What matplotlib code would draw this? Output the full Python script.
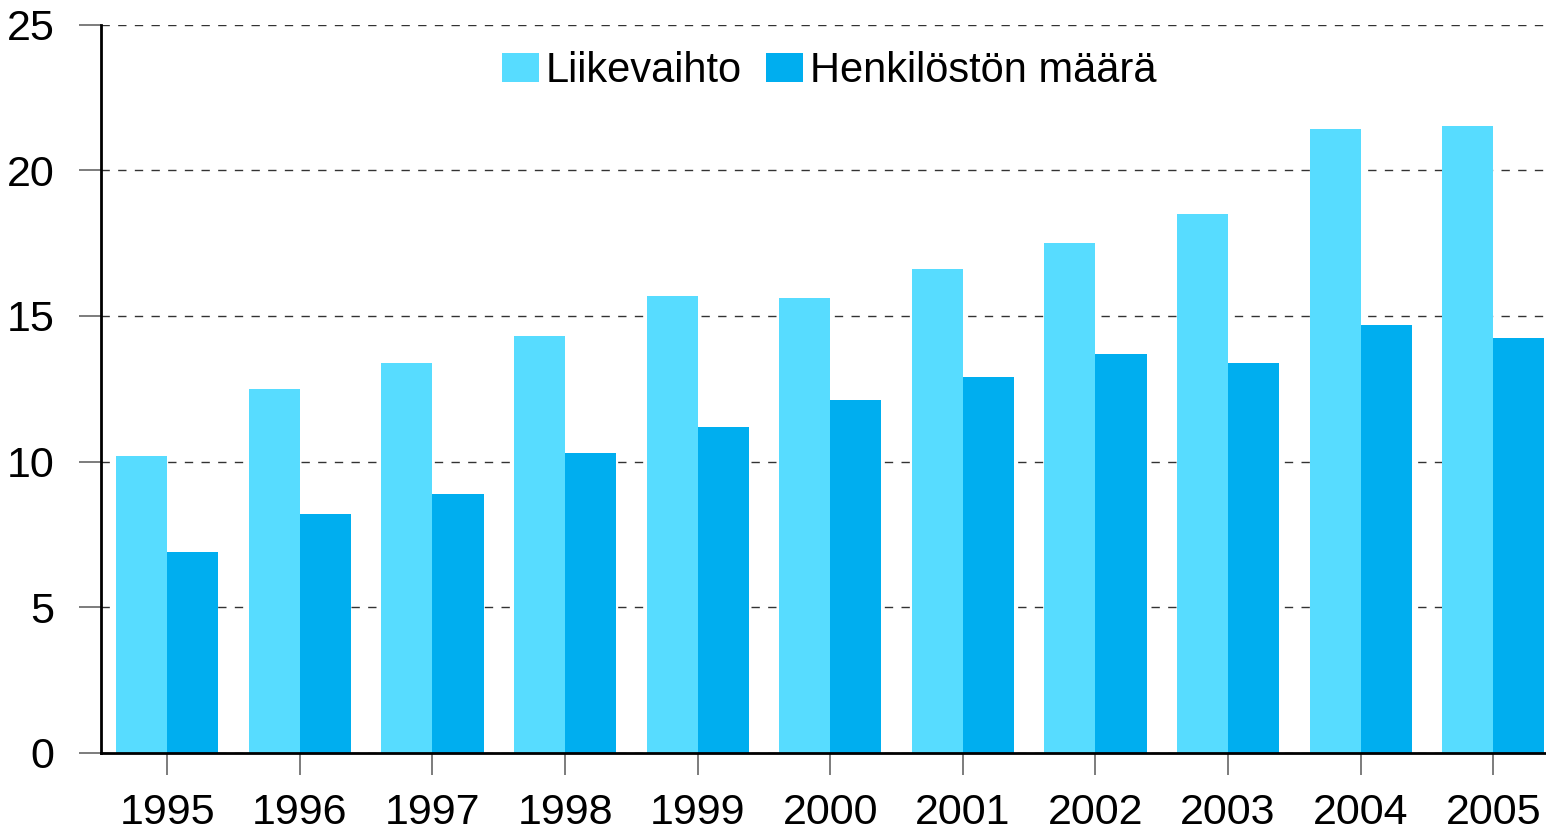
import matplotlib
matplotlib.use("Agg")
import matplotlib.pyplot as plt
import numpy as np

years = ["1995", "1996", "1997", "1998", "1999", "2000", "2001", "2002", "2003", "2004", "2005"]
liikevaihto = [10.2, 12.5, 13.4, 14.3, 15.7, 15.6, 16.6, 17.5, 18.5, 21.4, 21.5]
henkilosto = [6.9, 8.2, 8.9, 10.3, 11.2, 12.1, 12.9, 13.7, 13.4, 14.7, 14.25]
series_names = ["Liikevaihto", "Henkilöstön määrä"]
yticks = [0, 5, 10, 15, 20, 25]

plt.rcParams['font.family'] = ['Liberation Sans', 'DejaVu Sans']

W, H = 1546, 831
fig = plt.figure(figsize=(W / 100, H / 100), dpi=100)
ax = fig.add_axes([101 / W, 1 - 753 / H, (1545 - 101) / W, (753 - 24.5) / H])

x = np.arange(len(years))
bw = 0.385
ax.bar(x - bw / 2, liikevaihto, width=bw, color='#57DCFF', label=series_names[0], zorder=3)
ax.bar(x + bw / 2, henkilosto, width=bw, color='#00AEEF', label=series_names[1], zorder=3)

ax.set_xlim(-0.5, 10.39)
ax.set_ylim(0, 25)
ax.set_yticks(yticks)
ax.set_xticks(x)
ax.set_xticklabels(years)

ax.yaxis.grid(True, linestyle=(0, (6, 6)), color='#333333', linewidth=1.0, zorder=0)
ax.set_axisbelow(True)

for s in ['top', 'right']:
    ax.spines[s].set_visible(False)
for s in ['left', 'bottom']:
    ax.spines[s].set_color('black')
    ax.spines[s].set_linewidth(2.0)
    ax.spines[s].set_zorder(4)

ax.tick_params(axis='both', direction='out', length=15.5, width=1.2, color='#666666',
               labelsize=31, labelcolor='black')
ax.tick_params(axis='x', pad=13)
ax.tick_params(axis='y', pad=18)

leg = ax.legend(loc='center', bbox_to_anchor=((829 - 101) / (1545 - 101), 1 - (71 - 24.5) / (753 - 24.5)),
                ncol=2, frameon=False, fontsize=30, handlelength=0.9, handleheight=0.67,
                handletextpad=0.15, columnspacing=0.58, borderpad=0)

fig.savefig("out.png", dpi=100)
